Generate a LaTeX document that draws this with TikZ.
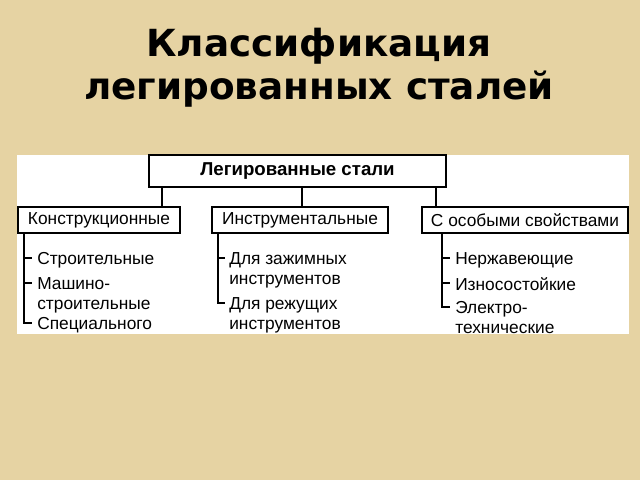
\documentclass[tikz,border=0pt]{standalone}
\usepackage{fontspec}
\setmainfont{Liberation Sans}
\newfontfamily\titlefont{DejaVu Sans}
\usetikzlibrary{
  calc,
}
\definecolor{papyrus}{RGB}{230, 211, 163}
\tikzstyle{group} = [
  draw,
  line width=1.5pt,
  fill=white,
  minimum height=19.5pt,
  inner sep=0pt,
  font=\fontsize{13}{15}\selectfont,
]
\tikzstyle{leaf} = [
  anchor=north west,
  inner sep=0pt,
  align=left,
  font=\fontsize{13}{15}\selectfont,
]
\tikzstyle{branch} = [line width=1.3pt]

\begin{document}
\begin{tikzpicture}[x=0.75pt, y=-0.75pt]
        \fill[papyrus] (0,0) rectangle (640,480);
        \fill[white] (17,155) rectangle (629,334);

        \node[align=center,font=\titlefont\bfseries\fontsize{28}{32}\selectfont] (title) at (319,68) {Классификация\\легированных сталей};

        \node[group,minimum width=222.75pt,minimum height=24pt,font=\bfseries\fontsize{14}{16}\selectfont] (steel) at (297.5,171) {Легированные стали};
        \node[group,minimum width=121.5pt] (kon) at (99,220) {Конструкционные};
        \node[group,minimum width=132pt] (ins) at (300,220) {Инструментальные};
        \node[group,minimum width=154.5pt] (oso) at (525,220) {С особыми свойствами};

        \coordinate (c1) at ($(steel.south west)+(14,0)$);
        \coordinate (c2) at ($(steel.south)+(4.5,0)$);
        \coordinate (c3) at ($(steel.south east)+(-11,0)$);
        \draw[branch] (c1) -- (c1 |- kon.north);
        \draw[branch] (c2) -- (c2 |- ins.north);
        \draw[branch] (c3) -- (c3 |- oso.north);

        % конструкционные
        \node[leaf] (k1) at (37,252) {Строительные};
        \node[leaf] (k2) at (37,277) {Машино-\\строительные};
        \node[leaf] (k3) at (37,317) {Специального};
        \coordinate (k0) at ($(kon.south west)+(7,0)$);
        \draw[branch] (k0) |- ($(k3.north west)+(-5,6)$);
        \draw[branch] ($(k1.north west)+(-12,6)$) -- ($(k1.north west)+(-5,6)$);
        \draw[branch] ($(k2.north west)+(-12,6)$) -- ($(k2.north west)+(-5,6)$);

        % инструментальные
        \node[leaf] (i1) at (229,252) {Для зажимных\\инструментов};
        \node[leaf] (i2) at (229,297) {Для режущих\\инструментов};
        \coordinate (i0) at ($(ins.south west)+(7,0)$);
        \draw[branch] (i0) |- ($(i2.north west)+(-4,6)$);
        \draw[branch] ($(i1.north west)+(-10,6)$) -- ($(i1.north west)+(-4,6)$);

        % с особыми свойствами
        \node[leaf] (o1) at (455,252) {Нержавеющие};
        \node[leaf] (o2) at (455,277) {Износостойкие};
        \node[leaf] (o3) at (455,301) {Электро-\\технические};
        \coordinate (o0) at ($(oso.south west)+(21,0)$);
        \draw[branch] (o0) |- ($(o3.north west)+(-5,6)$);
        \draw[branch] ($(o1.north west)+(-12,6)$) -- ($(o1.north west)+(-5,6)$);
        \draw[branch] ($(o2.north west)+(-12,6)$) -- ($(o2.north west)+(-5,6)$);
\end{tikzpicture}
\end{document}
